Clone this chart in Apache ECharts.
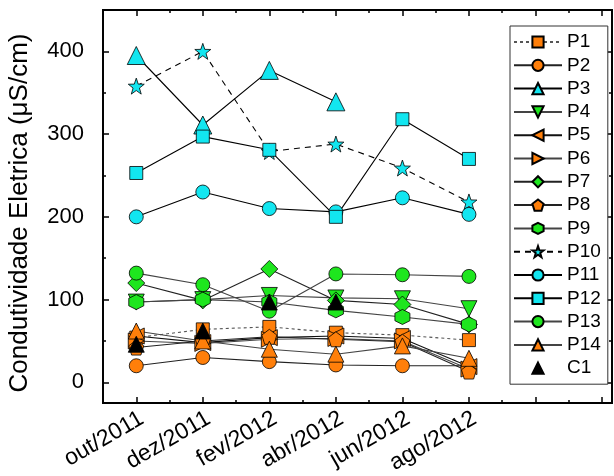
<!DOCTYPE html>
<html>
<head>
<meta charset="utf-8">
<script src="https://cdn.jsdelivr.net/npm/echarts@6/dist/echarts.min.js"></script>
<style>
html, body { margin: 0; padding: 0; background: #fff; }
#chart { width: 614px; height: 476px; }
</style>
</head>
<body>
<div id="chart"></div>
<script>
// meses de coleta
var months = ['out/2011', 'dez/2011', 'fev/2012', 'abr/2012', 'jun/2012', 'ago/2012'];

// condutividade eletrica (uS/cm) por ponto
var P1  = [54, 64, 67, 60, 57, 51];
var P2  = [20, 30, 25, 21, 20, 20];
var P3  = [395, 311, 377, 339, null, null];
var P4  = [97, 100, 105, 102, 101, 89];
var P5  = [56, 48, 54, 56, 53, 19];
var P6  = [50, 47, 52, 53, 50, 16];
var P7  = [120, 99, 137, 99, 94, 70];
var P8  = [42, 50, 55, 52, 49, 13];
var P9  = [97, 100, 97, 87, 79, 70];
var P10 = [358, 400, 279, 288, 259, 218];
var P11 = [200, 230, 210, 206, 223, 203];
var P12 = [253, 297, 281, 200, 318, 270];
var P13 = [132, 118, 86, 131, 130, 128];
var P14 = [62, 50, 40, 34, 44, 29];
var C1  = [46, 62, 97, 97, null, null];

// ticks
var yTicks = [0, 100, 200, 300, 400];
var yMinor = [50, 150, 250, 350];
var xTicks = [0, 1, 2, 3, 4, 5, 6, 7];
var xMinor = [0.5, 1.5, 2.5, 3.5, 4.5, 5.5, 6.5];

var ORANGE = '#FF7F0A';
var CYAN = '#12E6F0';
var GREEN = '#1EE61E';

var PENTAGON = 'path://M0,-10L9.51,-3.09L5.88,8.09L-5.88,8.09L-9.51,-3.09Z';
var HEXAGON = 'path://M0,-10L8.66,-5L8.66,5L0,10L-8.66,5L-8.66,-5Z';
var STAR = 'path://M0,-10L2.35,-3.24L9.51,-3.09L3.8,1.24L5.88,8.09L0,4L-5.88,8.09L-3.8,1.24L-9.51,-3.09L-2.35,-3.24Z';

var chart = echarts.init(document.getElementById('chart'));

function toPoints(vals) {
  var out = [];
  for (var i = 0; i < vals.length; i++) {
    if (vals[i] != null) out.push([i, vals[i]]);
  }
  return out;
}

function mk(name, vals, symbol, size, color, lineColor, lineType, rot) {
  return {
    name: name,
    type: 'line',
    data: toPoints(vals),
    symbol: symbol,
    symbolSize: size,
    symbolRotate: rot || 0,
    showAllSymbol: true,
    itemStyle: { color: color, borderColor: '#000', borderWidth: 0.8 },
    lineStyle: { color: lineColor, width: 1.1, type: lineType || 'solid' },
    emphasis: { disabled: true },
    animation: false
  };
}

var series = [
  mk('P1', P1, 'rect', 13, ORANGE, '#555', [3, 3]),
  mk('P2', P2, 'circle', 14, ORANGE, '#222'),
  mk('P3', P3, 'triangle', 18, CYAN, '#000'),
  mk('P4', P4, 'triangle', 16, GREEN, '#444', 'solid', 180),
  mk('P5', P5, 'triangle', 16, ORANGE, '#111', 'solid', 90),
  mk('P6', P6, 'triangle', 16, ORANGE, '#444', 'solid', -90),
  mk('P7', P7, 'diamond', 17, GREEN, '#222'),
  mk('P8', P8, PENTAGON, 15, ORANGE, '#222'),
  mk('P9', P9, HEXAGON, 15, GREEN, '#444'),
  mk('P10', P10, STAR, 16, CYAN, '#000', [6, 5]),
  mk('P11', P11, 'circle', 14, CYAN, '#000'),
  mk('P12', P12, 'rect', 13, CYAN, '#000'),
  mk('P13', P13, 'circle', 14, GREEN, '#444'),
  mk('P14', P14, 'triangle', 16, ORANGE, '#444'),
  mk('C1', C1, 'triangle', 16, '#000', '#000')
];
series[14].lineStyle.opacity = 0;

var axisLine = { show: true, onZero: false, lineStyle: { color: '#000', width: 1.8 } };

function xAx(pos, ticks, len, labels) {
  return {
    type: 'value', position: pos, min: -0.5, max: 7.15,
    axisLine: axisLine,
    splitLine: { show: false },
    axisTick: { show: true, inside: true, length: len, customValues: ticks, lineStyle: { color: '#000', width: 1.5 } },
    axisLabel: labels ? {
      show: true, customValues: [0, 1, 2, 3, 4, 5], rotate: 30, margin: 4,
      verticalAlign: 'top',
      fontFamily: 'Liberation Sans, Arial', fontSize: 23, color: '#000',
      formatter: function (v) { return months[Math.round(v)] || ''; }
    } : { show: false }
  };
}

function yAx(pos, ticks, len, labels, name) {
  return {
    type: 'value', position: pos, min: -25, max: 450,
    name: name || '',
    nameLocation: 'middle',
    nameGap: 70,
    nameTextStyle: { fontFamily: 'Liberation Sans, Arial', fontSize: 26, color: '#000', padding: [0, 13, 0, 0] },
    axisLine: axisLine,
    splitLine: { show: false },
    axisTick: { show: true, inside: true, length: len, customValues: ticks, lineStyle: { color: '#000', width: 1.5 } },
    axisLabel: labels ? {
      show: true, customValues: yTicks, margin: 19,
      fontFamily: 'Liberation Sans, Arial', fontSize: 22, color: '#000'
    } : { show: false }
  };
}

chart.setOption({
  backgroundColor: '#fff',
  animation: false,
  grid: { left: 103, top: 10, right: 2, bottom: 73, containLabel: false, outerBoundsMode: 'none' },
  legend: {
    orient: 'vertical',
    left: 510, top: 26,
    padding: [6, 7, 6, 3],
    itemWidth: 48, itemHeight: 14, itemGap: 3.3,
    borderColor: '#333', borderWidth: 1,
    backgroundColor: '#fff',
    textStyle: { fontFamily: 'Liberation Sans, Arial', fontSize: 19, color: '#000', lineHeight: 20 },
    data: ['P1', 'P2', 'P3', 'P4', 'P5', 'P6', 'P7', 'P8', 'P9', 'P10', 'P11', 'P12', 'P13', 'P14', 'C1']
  },
  xAxis: [
    xAx('bottom', xTicks, 6, true),
    xAx('top', xTicks, 6, false),
    xAx('bottom', xMinor, 3, false),
    xAx('top', xMinor, 3, false)
  ],
  yAxis: [
    yAx('left', yTicks, 6, true, 'Condutividade Eletrica (\u03bcS/cm)'),
    yAx('right', yTicks, 6, false),
    yAx('left', yMinor, 3, false),
    yAx('right', yMinor, 3, false)
  ],
  series: series
});
</script>
</body>
</html>
